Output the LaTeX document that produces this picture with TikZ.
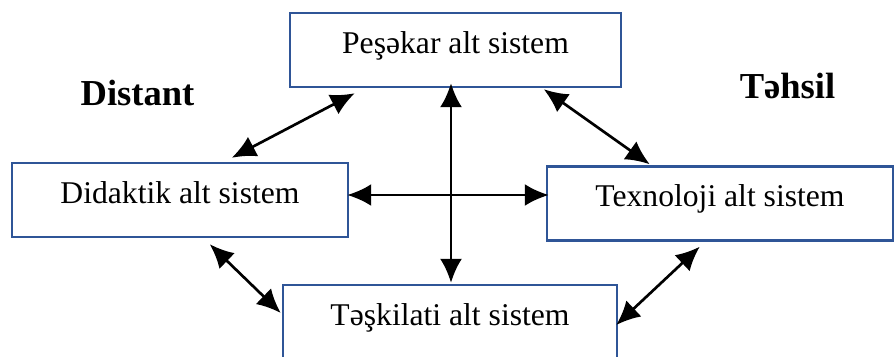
\documentclass[tikz,border=0pt]{standalone}
\usepackage{fontspec}
\setmainfont{Liberation Serif}
\usetikzlibrary{arrows.meta,calc}
\definecolor{boxblue}{RGB}{47,85,151}
\tikzstyle{sysbox}=[draw=boxblue, line width=1.7pt, inner sep=0pt, text height=1cm, text depth=0.85cm, font=\fontsize{22.5}{26}\selectfont]
\tikzstyle{arrow}=[draw, line width=1.9pt, {Latex[length=6mm,width=5.5mm]}-{Latex[length=6mm,width=5.5mm]}]
\tikzstyle{heading}=[anchor=base, font=\fontsize{26}{30}\selectfont\bfseries]

\begin{document}
\begin{tikzpicture}[x=0.025cm, y=-0.025cm]
\useasboundingbox (0,0) rectangle (895,356);
\clip (0,0) rectangle (895,356); % the bottom box runs off the page
\node[sysbox, minimum width=8.275cm] (pes) at (455.5,50) {Peşəkar alt sistem};
\node[sysbox, minimum width=8.4cm] (did) at (180,200) {Didaktik alt sistem};
\node[sysbox, minimum width=8.65cm] (tex) at (720,203.5) {Texnoloji alt sistem};
\node[sysbox, minimum width=8.35cm] (tas) at (450,322) {Təşkilati alt sistem};
\node[heading] (dist) at (137.5,105) {Distant};
\node[heading] (tehs) at (787.5,98) {Təhsil};
% links between the subsystems
\path [arrow] ($(pes.south west)+(66,5)$) -- ($(did.north west)+(221,-4)$);
\path [arrow] ($(pes.south west)+(255,1)$) -- ($(tex.north west)+(104,-1)$);
\path [arrow] ($(pes.south)+(-4.5,-5)$) -- ($(tas.north)+(1,-1)$);
\path [arrow] ($(did.east)+(-2,-5)$) -- ($(tex.west)+(3,-8.5)$);
\path [arrow] ($(did.south west)+(199,6)$) -- ($(tas.west)+(-1,-9)$);
\path [arrow] ($(tex.south west)+(154,5)$) -- ($(tas.east)+(-2,3)$);
\end{tikzpicture}
\end{document}
